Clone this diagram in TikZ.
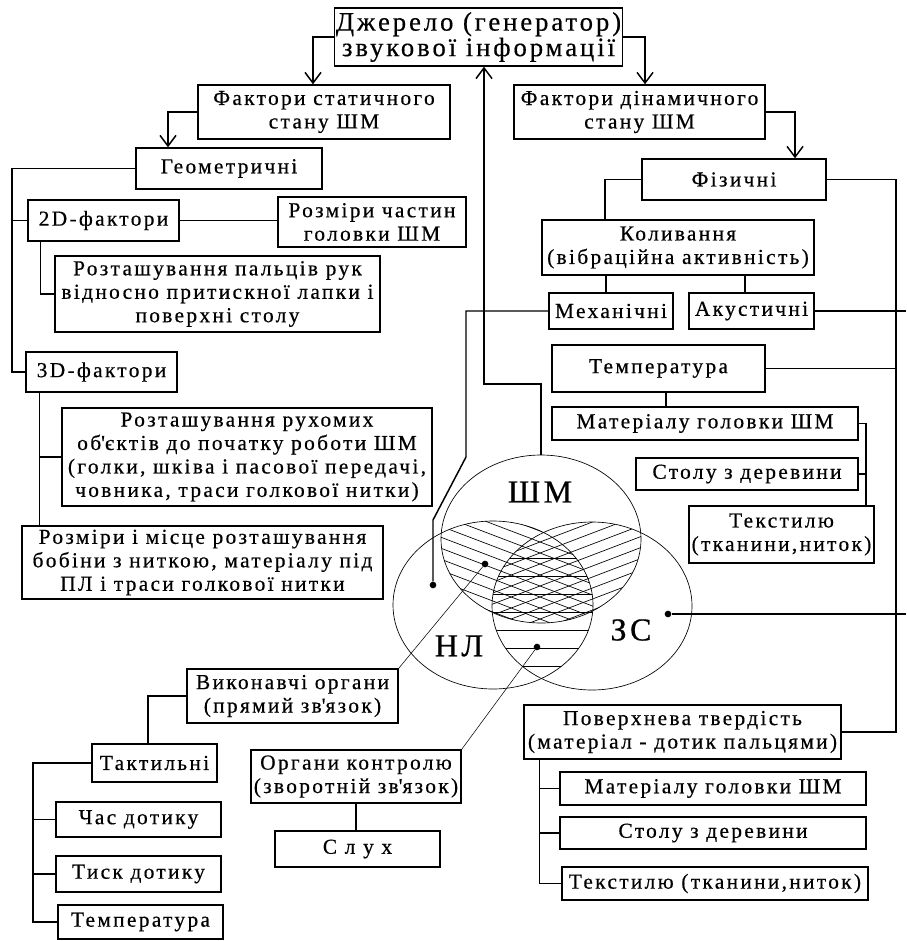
\documentclass[tikz,border=0pt]{standalone}
\usepackage{fontspec}
\setmainfont{Liberation Serif}[LetterSpace=11, FakeBold=0.5]
\usetikzlibrary{arrows.meta,calc,shapes.geometric}

\begin{document}
\begin{tikzpicture}[
  x=0.75pt, y=-0.75pt,
  box/.style={draw, line width=1.1pt, inner sep=1pt, align=center,
    font=\fontsize{16}{17.6}\selectfont},
  sz/.style 2 args={minimum width=#1*0.75pt, minimum height=#2*0.75pt},
  link/.style={line width=1.1pt},
  arr/.style={line width=1.1pt, -{Straight Barb[length=8pt,width=12pt]}},
  venn/.style={ellipse, draw, line width=0.5pt, inner sep=0pt,
    minimum width=150pt, minimum height=126pt},
  hatch/.style={line width=0.5pt},
  dot/.style={circle, fill, inner sep=0pt, minimum size=5pt},
  tag/.style={font=\fontsize{24}{24}\selectfont}
  ]
  \useasboundingbox (0,0) rectangle (906,941);

  % source and the two groups of factors
  \node[box, sz={287}{58}, font=\fontsize{20}{18}\selectfont] (src) at (478.5,37) {Джерело (генератор)\\звукової інформації};
  \node[box, sz={252}{54}] (stat) at (324,112) {Фактори статичного\\стану ШМ};
  \node[box, sz={251}{54}] (dyn) at (639.5,112) {Фактори дінамичного\\стану ШМ};

  % static: geometric
  \node[box, sz={186}{41}] (geom) at (229,168.5) {Геометричні};
  \node[box, sz={151}{41}] (twoD) at (103.5,220.5) {2D-фактори};
  \node[box, sz={188}{50}] (sizes) at (372,222) {Розміри частин\\головки ШМ};
  \node[box, sz={325}{76}] (fingers) at (217.5,294) {Розташування пальців рук\\відносно притискної лапки і\\поверхні столу};
  \node[box, sz={151}{40}] (threeD) at (101.5,372) {3D-фактори};
  \node[box, sz={370}{98}] (moving) at (247,457) {Розташування рухомих\\об\textquotesingle єктів до початку роботи ШМ\\(голки, шківа і пасової передачі,\\човника, траси голкової нитки)};
  \node[box, sz={361}{73}] (bobbin) at (202.5,562.5) {Розміри і місце розташування\\бобіни з ниткою, матеріалу під\\ПЛ і траси голкової нитки};

  % dynamic: physical
  \node[box, sz={184}{41}] (fiz) at (734,179.5) {Фізичні};
  \node[box, sz={272}{55}] (kol) at (678,247.5) {Коливання\\(вібраційна активність)};
  \node[box, sz={124}{36}] (mech) at (611,311) {Механічні};
  \node[box, sz={125}{36}] (acu) at (751.5,311) {Акустичні};
  \node[box, sz={213}{47}] (temp) at (658.5,368.5) {Температура};
  \node[box, sz={306}{33}] (matT) at (705,423.5) {Матеріалу головки ШМ};
  \node[box, sz={222}{32}] (stolT) at (747,474) {Столу з деревини};
  \node[box, sz={185}{57}] (textT) at (781.5,534.5) {Текстилю\\(тканини,ниток)};

  % operator side
  \node[box, sz={211}{54}] (exec) at (292.5,696) {Виконавчі органи\\(прямий зв\textquotesingle язок)};
  \node[box, sz={125}{38}] (tact) at (154.5,763) {Тактильні};
  \node[box, sz={165}{35}] (time) at (138.5,819.5) {Час дотику};
  \node[box, sz={165}{36}] (press) at (138.5,874) {Тиск дотику};
  \node[box, sz={165}{34}] (tempL) at (140.5,922) {Температура};
  \node[box, sz={210}{53}] (ctrl) at (356,776.5) {Органи контролю\\(зворотній зв\textquotesingle язок)};
  \node[box, sz={165}{36}] (hear) at (357.5,849) {С л у х};

  % surface hardness
  \node[box, sz={317}{54}] (surf) at (682.5,732) {Поверхнева твердість\\(матеріал - дотик пальцями)};
  \node[box, sz={306}{33}] (matS) at (713,788.5) {Матеріалу головки ШМ};
  \node[box, sz={306}{32}] (stolS) at (713,833) {Столу з деревини};
  \node[box, sz={306}{33}] (textS) at (715,883.5) {Текстилю (тканини,ниток)};

  % venn diagram
  \node[venn] (shm) at (541,539) {};
  \node[venn] (nl) at (493,605) {};
  \node[venn] (zs) at (592,606) {};

  \begin{scope}
    \clip (shm.center) ellipse [x radius=100, y radius=84];
    \clip (nl.center) ellipse [x radius=100, y radius=84];
    \foreach \k in {0,...,30}
      \draw[hatch] (380,360+11*\k) -- (700,482+11*\k);
  \end{scope}
  \begin{scope}
    \clip (shm.center) ellipse [x radius=100, y radius=84];
    \clip (zs.center) ellipse [x radius=100, y radius=84];
    \foreach \k in {0,...,30}
      \draw[hatch] (380,482+11*\k) -- (700,360+11*\k);
  \end{scope}
  \begin{scope}
    \clip (nl.center) ellipse [x radius=100, y radius=84];
    \clip (zs.center) ellipse [x radius=100, y radius=84];
    \foreach \k in {0,...,7}
      \draw[hatch] (380,558+18*\k) -- (700,558+18*\k);
  \end{scope}

  \node[tag] (shmT) at (540,492) {ШМ};
  \node[tag] (nlT) at (459,646) {НЛ};
  \node[tag] (zsT) at (631,630) {ЗС};

  \node[dot] (dotNL) at (433,585) {};
  \node[dot] (dotA) at (485,564) {};
  \node[dot] (dotB) at (537,647) {};
  \node[dot] (dotC) at (668,614) {};

  \coordinate (trunkG) at (12,0);
  \coordinate (trunkR) at (896,0);
  \coordinate (trunkT) at (866,0);
  \coordinate (trunkL) at (33,0);
  \coordinate (edge) at (906,0);

  % arrows
  \draw[arr] (src.west) -| ($(stat.north)+(-11,0)$);
  \draw[arr] (src.east) -| ($(dyn.north)+(5.5,0)$);
  \draw[arr] (stat.west) -| ($(geom.north)+(-61,0)$);
  \draw[arr] (dyn.east) -| ($(fiz.north)+(61,0)$);
  \draw[arr] (shm.north) |- (484,384) -- ($(src.south)+(5.5,0)$);

  % left tree
  \draw[link] (geom.west) -| (trunkG |- threeD.west) -- (threeD.west);
  \draw[link] (trunkG |- twoD.west) -- (twoD.west);
  \draw[link] (twoD.east) -- (twoD.east -| sizes.west);
  \draw[link] ($(twoD.south west)+(13,0)$) |- (fingers.west);
  \draw[link] ($(threeD.south west)+(14,0)$) coordinate (t3) -- (t3 |- bobbin.north);
  \draw[link] (t3 |- moving.west) -- (moving.west);

  % right tree
  \draw[link] (fiz.west) -| ($(kol.north)+(-73,0)$);
  \draw[link] (fiz.east) -| (trunkR |- surf.east) -- (surf.east);
  \draw[link] ($(kol.south)+(-72,0)$) -- ($(mech.north)+(-5,0)$);
  \draw[link] ($(kol.south)+(67,0)$) -- ($(acu.north)+(-6.5,0)$);
  \draw[link] (acu.east) -- (acu.east -| edge);
  \draw[link] (temp.east) -- (temp.east -| trunkR);
  \draw[link] ($(temp.south)+(7.5,0)$) coordinate (tm) -- (tm |- matT.north);
  \draw[link] (matT.east) -| (trunkT |- textT.north);
  \draw[link] (stolT.east) -- (stolT.east -| trunkT);
  \draw[link] (mech.west) -| (466,457) -- (433,520) -- (dotNL);
  \draw[link] (dotC) -- (dotC -| edge);

  % bottom trees
  \draw[link] (exec.west) -| ($(tact.north)+(-6.5,0)$);
  \draw[link] (tact.west) -| (trunkL |- tempL.west) -- (tempL.west);
  \draw[link] (trunkL |- time.west) -- (time.west);
  \draw[link] (trunkL |- press.west) -- (press.west);
  \draw[link] (ctrl.south) -- (ctrl.south |- hear.north);
  \draw[link] ($(surf.south west)+(16,0)$) coordinate (ts) |- (textS.west);
  \draw[link] (ts |- matS.west) -- (matS.west);
  \draw[link] (ts |- stolS.west) -- (stolS.west);
  \draw[thin] (exec.north east) -- (dotA);
  \draw[thin] (ctrl.north east) -- (dotB);
\end{tikzpicture}
\end{document}
